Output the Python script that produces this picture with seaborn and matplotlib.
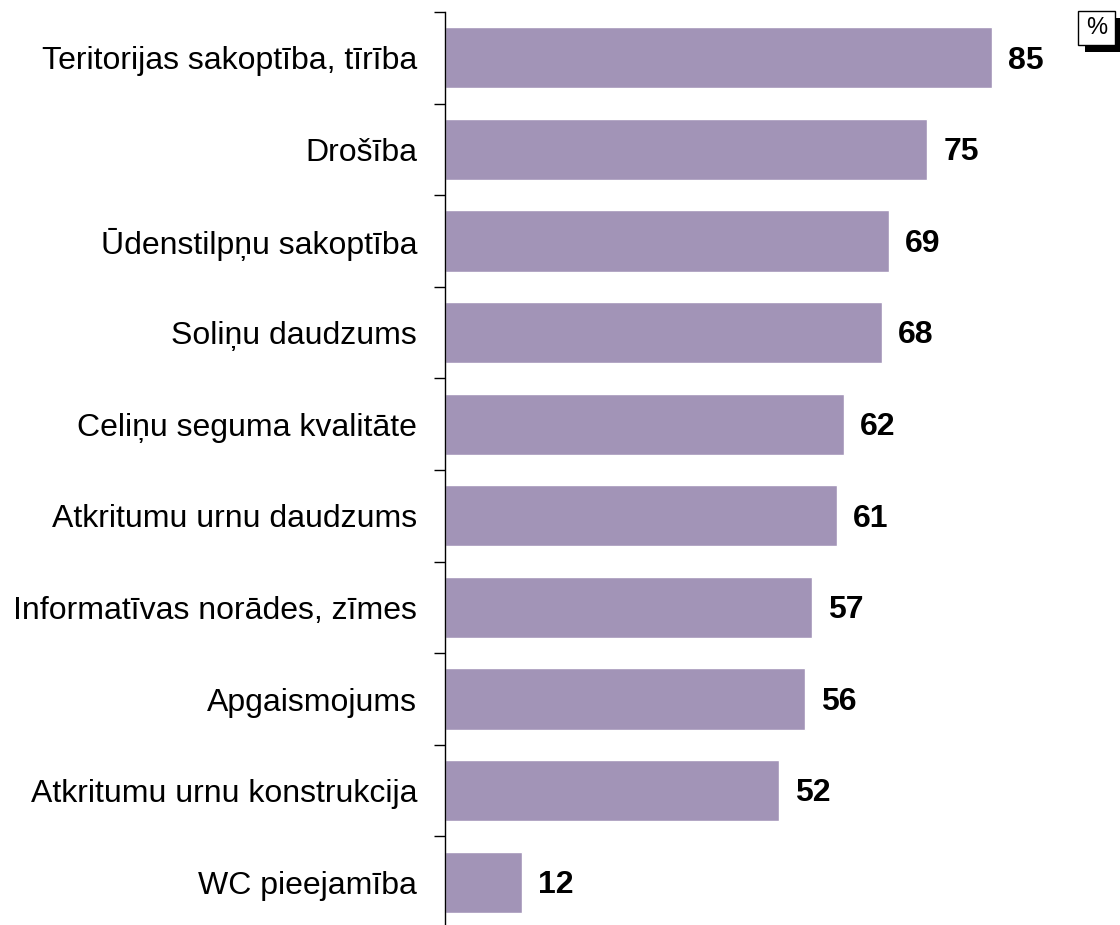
import matplotlib
matplotlib.use('Agg')
import matplotlib.pyplot as plt
import matplotlib.patches as mpatches
import seaborn as sns
import pandas as pd
import numpy as np

categories = ['Teritorijas sakoptība, tīrība', 'Drošība', 'Ūdenstilpņu sakoptība',
              'Soliņu daudzums', 'Celiņu seguma kvalitāte', 'Atkritumu urnu daudzums',
              'Informatīvas norādes, zīmes', 'Apgaismojums', 'Atkritumu urnu konstrukcija',
              'WC pieejamība']
values = [85, 75, 69, 68, 62, 61, 57, 56, 52, 12]

df = pd.DataFrame({'cat': categories, 'val': values})

sns.set_style('white')
plt.rcParams['font.family'] = ['Liberation Sans', 'DejaVu Sans']
plt.rcParams['text.color'] = 'black'
plt.rcParams['ytick.color'] = 'black'
plt.rcParams['ytick.labelcolor'] = 'black'

fig = plt.figure(figsize=(11.2, 9.25), dpi=100)
ax = fig.add_axes([445 / 1120, 1 - 928 / 925, (1088 - 445) / 1120, (928 - 12) / 925])

sns.barplot(data=df, x='val', y='cat', orient='h', color='#a294b7',
            saturation=1, width=0.67, ax=ax)

ax.set_xlim(0, 100)
ax.set_ylim(len(categories) - 0.5, -0.5)
for i, v in enumerate(values):
    ax.text(v + 2.5, i + 0.03, str(v), va='center', ha='left',
            fontsize=23, fontweight='bold', color='black')

ax.set_xlabel('')
ax.set_ylabel('')
ax.set_xticks([])
ax.tick_params(axis='y', which='major', left=False, length=0, labelsize=23, pad=20,
               labelcolor='black')
ax.set_yticks(np.arange(len(categories) + 1) - 0.5, minor=True)
ax.tick_params(axis='y', which='minor', left=True, length=8, width=1, color='black',
               direction='out')
for s in ['top', 'right', 'bottom']:
    ax.spines[s].set_visible(False)
ax.spines['left'].set_color('black')
ax.spines['left'].set_linewidth(1)

# % box with shadow
W, H = 1120, 925
fig.patches.append(mpatches.Rectangle((1085 / W, 1 - 52 / H), 37 / W, 34 / H,
                                      transform=fig.transFigure, facecolor='black',
                                      edgecolor='none'))
fig.patches.append(mpatches.Rectangle((1078 / W, 1 - 45 / H), 37 / W, 34 / H,
                                      transform=fig.transFigure, facecolor='white',
                                      edgecolor='black', linewidth=1))
fig.text(1096.5 / W, 1 - 28 / H, '%', ha='center', va='center', fontsize=17)

fig.savefig('out.png', dpi=100)
